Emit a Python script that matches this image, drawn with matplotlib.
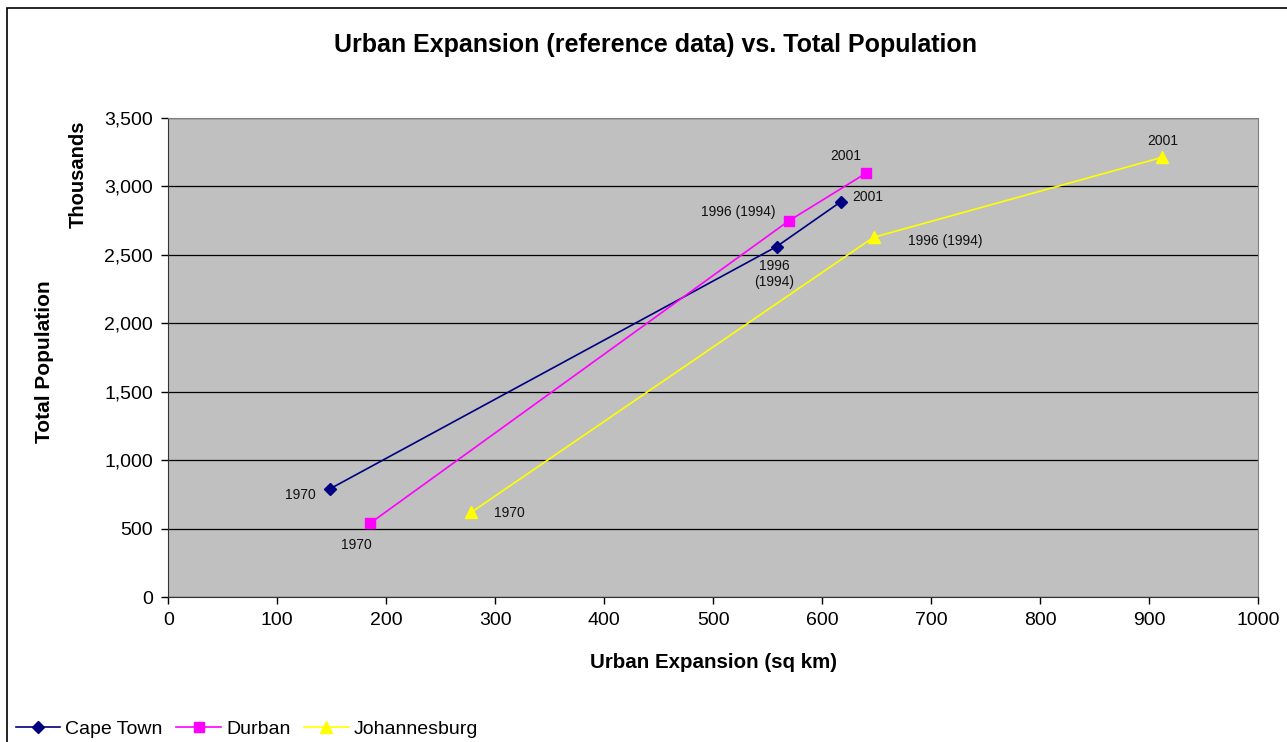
import numpy as np
import matplotlib
matplotlib.use('Agg')
import matplotlib.pyplot as plt
from matplotlib.patches import Rectangle
from matplotlib.ticker import FuncFormatter

plt.rcParams['font.family'] = ['Liberation Sans', 'DejaVu Sans']

# data (x: sq km, y: thousands)
cities = ['Cape Town', 'Durban', 'Johannesburg']
cape_x = [148, 558, 617]
cape_y = [789, 2560, 2888]
durban_x = [185, 569, 640]
durban_y = [538, 2747, 3096]
jhb_x = [278, 647, 912]
jhb_y = [619, 2628, 3213]
cape_labels = ['1970', '1996\n(1994)', '2001']
durban_labels = ['1970', '1996 (1994)', '2001']
jhb_labels = ['1970', '1996 (1994)', '2001']

fig = plt.figure(figsize=(12.87, 7.42), dpi=100)
ax = fig.add_axes([168.3 / 1287, 1 - 597 / 742, 1090 / 1287, 479 / 742])
ax.set_facecolor('#C0C0C0')

series = [
    (cape_x, cape_y, cape_labels, '#000080', 'D', 6,
     [(-29, -6), (-2, -27), (27, 5)]),
    (durban_x, durban_y, durban_labels, '#FF00FF', 's', 7,
     [(-14, -22), (-50, 9), (-20, 17)]),
    (jhb_x, jhb_y, jhb_labels, '#FFFF00', '^', 8,
     [(38, -1), (72, -4), (0, 16)]),
]
for name, (xs, ys, labs, col, mk, ms, offs) in zip(cities, series):
    ax.plot(xs, ys, color=col, lw=1.2, marker=mk, markersize=ms,
            markeredgecolor=col, label=name, zorder=3)
    for x, y, lab, off in zip(xs, ys, labs, offs):
        ax.annotate(lab, (x, y), xytext=off, textcoords='offset pixels',
                    ha='center', va='center', fontsize=10, color='#111111',
                    linespacing=1.2)

ax.set_xlim(0, 1000)
ax.set_ylim(0, 3500)
ax.set_xticks(np.arange(0, 1001, 100))
ax.set_yticks(np.arange(0, 3501, 500))
ax.yaxis.set_major_formatter(FuncFormatter(lambda v, p: '{:,.0f}'.format(v)))
ax.grid(axis='y', color='black', lw=0.9)
ax.set_axisbelow(True)
ax.tick_params(labelsize=14, length=5, width=1, direction='out', pad=6)
for s in ['top', 'right']:
    ax.spines[s].set_color('#808080')
for s in ['left', 'bottom']:
    ax.spines[s].set_color('#333333')

fig.text(713 / 1287, 1 - 663 / 742, 'Urban Expansion (sq km)', fontsize=14.8,
         fontweight='bold', ha='center', va='center')
fig.text(44 / 1287, 1 - 362 / 742, 'Total Population', rotation=90, fontsize=15,
         fontweight='bold', ha='center', va='center')
fig.text(78 / 1287, 1 - 174 / 742, 'Thousands', rotation=90, fontsize=14.5,
         fontweight='bold', ha='center', va='center')
fig.text(655 / 1287, 1 - 45 / 742, 'Urban Expansion (reference data) vs. Total Population',
         fontsize=18, fontweight='bold', ha='center', va='center')

fig.legend(loc='lower left', bbox_to_anchor=(8 / 1287, -0.005), ncol=3, frameon=False,
           fontsize=14, handlelength=2.3, handletextpad=0.25, columnspacing=0.7,
           borderaxespad=0)

# chart frame (only left and top edges fall inside the image)
fig.patches.append(Rectangle((7 / 1287, -0.2), 1.2, 0.2 + (742 - 8) / 742,
                             transform=fig.transFigure, fill=False,
                             edgecolor='black', lw=1.2))

fig.savefig('out.png', dpi=100)
